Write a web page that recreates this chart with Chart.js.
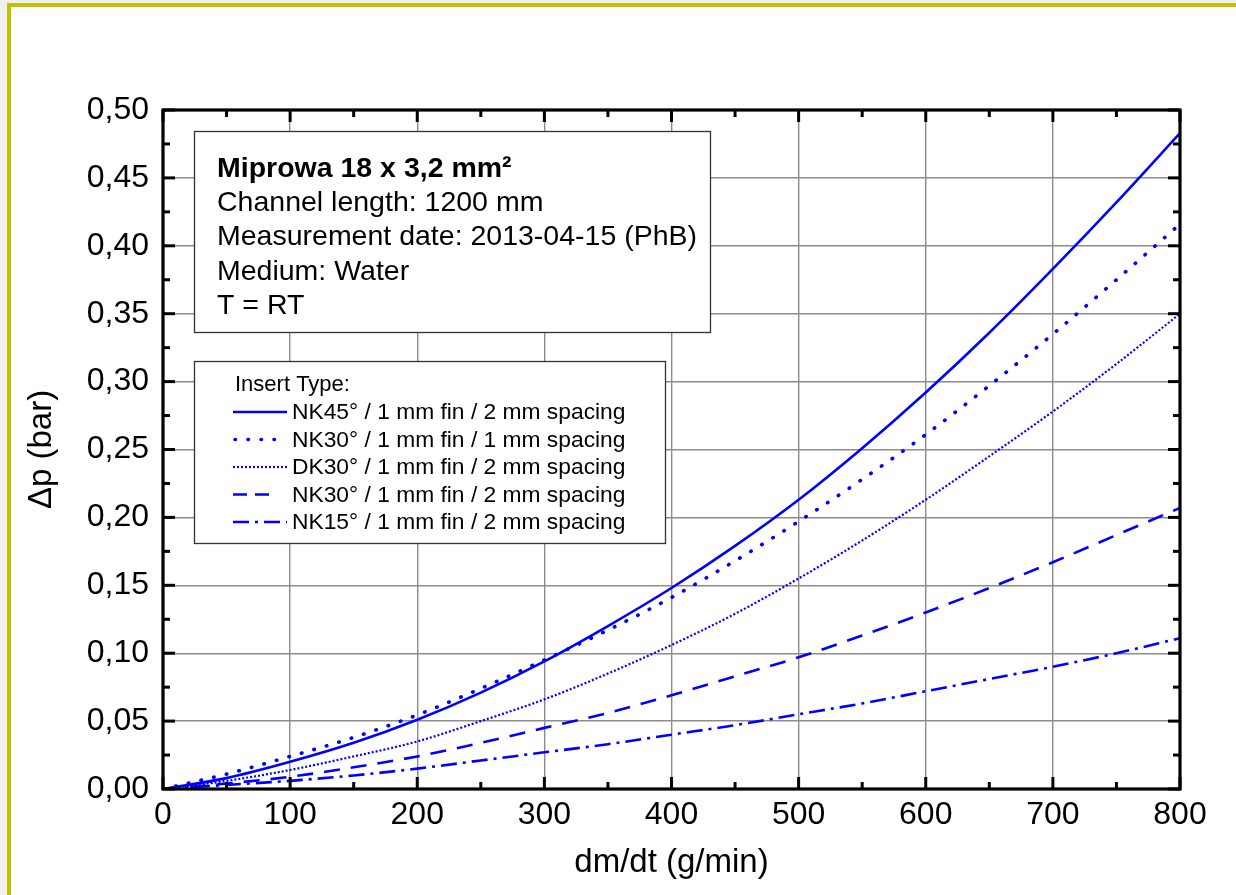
<!DOCTYPE html>
<html>
<head>
<meta charset="utf-8">
<script src="https://cdn.jsdelivr.net/npm/chart.js@4.4.1/dist/chart.umd.min.js"></script>
<style>
html,body{margin:0;padding:0;background:#f0f0f0;}
#wrap{position:absolute;left:0;top:0;width:1236px;height:895px;}
</style>
</head>
<body>
<div id="wrap"><canvas id="c" width="1236" height="895"></canvas></div>
<script>
// ---- data ----
const flow = [0,50,100,150,200,250,300,350,400,450,500,550,600,650,700,750,800];
const nk45_2mm = [0,0.008,0.020,0.034,0.051,0.071,0.094,0.120,0.148,0.179,0.213,0.251,0.292,0.336,0.383,0.432,0.483];
const nk30_1mm = [0,0.011,0.024,0.038,0.0545,0.074,0.095,0.117,0.141,0.168,0.197,0.228,0.261,0.297,0.335,0.375,0.416];
const dk30_2mm = [0,0.006,0.014,0.024,0.035,0.050,0.066,0.085,0.106,0.129,0.155,0.183,0.213,0.245,0.278,0.313,0.350];
const nk30_2mm = [0,0.004,0.009,0.016,0.024,0.034,0.045,0.056,0.069,0.083,0.097,0.113,0.130,0.148,0.167,0.187,0.207];
const nk15_2mm = [0,0.003,0.006,0.010,0.015,0.021,0.027,0.033,0.040,0.047,0.055,0.063,0.072,0.081,0.090,0.100,0.111];
const seriesLabels = [
  "NK45° / 1 mm fin / 2 mm spacing",
  "NK30° / 1 mm fin / 1 mm spacing",
  "DK30° / 1 mm fin / 2 mm spacing",
  "NK30° / 1 mm fin / 2 mm spacing",
  "NK15° / 1 mm fin / 2 mm spacing"
];
const xTicks = [0,100,200,300,400,500,600,700,800];
const yTicks = [0,0.05,0.10,0.15,0.20,0.25,0.30,0.35,0.40,0.45,0.50];
const infoLines = ["Miprowa 18 x 3,2 mm²","Channel length: 1200 mm","Measurement date: 2013-04-15 (PhB)","Medium: Water","T = RT"];
const legendTitle = "Insert Type:";

const BLUE = "#0000ff";
const FONT = "'Liberation Sans', Arial, sans-serif";
const styles = [
  {dash:[], width:2.6, cap:'butt'},
  {dash:[0.5,12.5], width:3.6, cap:'round'},
  {dash:[2,2], width:2.2, cap:'butt'},
  {dash:[16,11], width:2.6, cap:'butt'},
  {dash:[16,6,3,6], width:2.6, cap:'butt'}
];
const allSeries = [nk45_2mm, nk30_1mm, dk30_2mm, nk30_2mm, nk15_2mm];

const datasets = allSeries.map((arr,i)=>({
  label: seriesLabels[i],
  data: flow.map((x,j)=>({x:x,y:arr[j]})),
  borderColor: BLUE,
  borderWidth: styles[i].width,
  borderDash: styles[i].dash,
  borderCapStyle: styles[i].cap,
  pointRadius: 0,
  cubicInterpolationMode: 'monotone',
  fill:false
}));

function fmt(v){ return v.toFixed(2).replace('.', ','); }

const framePlugin = {
  id:'frame',
  beforeDraw(chart){
    const ctx = chart.ctx;
    ctx.save();
    ctx.fillStyle = '#f0f0f0';
    ctx.fillRect(0,0,chart.width,chart.height);
    ctx.fillStyle = '#bfc300';
    ctx.fillRect(7,3,chart.width-7,chart.height-3);
    ctx.fillStyle = '#ffffff';
    ctx.fillRect(11,7,chart.width-11,chart.height-7);
    ctx.restore();
  },
  afterDraw(chart){
    const ctx = chart.ctx;
    const a = chart.chartArea;
    const xs = chart.scales.x, ys = chart.scales.y;
    ctx.save();
    ctx.strokeStyle = '#000';
    // ticks inward
    ctx.lineWidth = 3;
    for(let v=0; v<=800; v+=50){
      const px = xs.getPixelForValue(v);
      const len = (v%100===0)?12:7;
      ctx.beginPath(); ctx.moveTo(px,a.bottom); ctx.lineTo(px,a.bottom-len); ctx.stroke();
      ctx.beginPath(); ctx.moveTo(px,a.top); ctx.lineTo(px,a.top+len); ctx.stroke();
    }
    for(let k=0; k<=20; k++){
      const v = k*0.025;
      const py = ys.getPixelForValue(v);
      const len = (k%2===0)?12:7;
      ctx.beginPath(); ctx.moveTo(a.left,py); ctx.lineTo(a.left+len,py); ctx.stroke();
      ctx.beginPath(); ctx.moveTo(a.right,py); ctx.lineTo(a.right-len,py); ctx.stroke();
    }
    // frame
    ctx.lineWidth = 3.2;
    ctx.strokeRect(a.left, a.top, a.right-a.left, a.bottom-a.top);

    // info box
    const bx=194, by=131, bw=516, bh=201;
    ctx.fillStyle='#fff';
    ctx.fillRect(bx,by,bw,bh);
    ctx.lineWidth=1.3; ctx.strokeStyle='#333';
    ctx.strokeRect(bx+0.5,by+0.5,bw,bh);
    ctx.fillStyle='#000';
    ctx.textBaseline='alphabetic'; ctx.textAlign='left';
    for(let i=0;i<infoLines.length;i++){
      ctx.font = (i===0? 'bold ':'') + '28.5px ' + FONT;
      ctx.fillText(infoLines[i], 217, 177 + i*34.2);
    }

    // legend box
    const lx=194, ly=361, lw=471, lh=182;
    ctx.fillStyle='#fff';
    ctx.fillRect(lx,ly,lw,lh);
    ctx.strokeStyle='#333'; ctx.lineWidth=1.3;
    ctx.strokeRect(lx+0.5,ly+0.5,lw,lh);
    ctx.fillStyle='#000';
    ctx.font = '22px ' + FONT;
    ctx.fillText(legendTitle, 235, 391);
    for(let i=0;i<seriesLabels.length;i++){
      const yy = 412 + i*27.5;
      ctx.save();
      ctx.strokeStyle = BLUE;
      ctx.lineWidth = styles[i].width;
      ctx.setLineDash(i===3?[14,8]:styles[i].dash);
      ctx.lineCap = styles[i].cap;
      ctx.beginPath();
      ctx.moveTo(i===1?235:233, yy); ctx.lineTo(i===3?270:287, yy);
      ctx.stroke();
      ctx.restore();
      ctx.fillStyle='#000';
      ctx.font = '22.8px ' + FONT;
      ctx.fillText(seriesLabels[i], 292, yy+7);
    }
    ctx.restore();
  }
};

new Chart(document.getElementById('c'), {
  type:'line',
  data:{datasets:datasets},
  plugins:[framePlugin],
  options:{
    responsive:false,
    animation:false,
    devicePixelRatio:1,
    layout:{padding:{left:0,right:56,top:110,bottom:0}},
    plugins:{legend:{display:false}, tooltip:{enabled:false}},
    scales:{
      x:{
        type:'linear', min:0, max:800,
        afterBuildTicks(s){ s.ticks = xTicks.map(v=>({value:v})); },
        afterFit(s){ s.height = 106; },
        grid:{color:'#8c8c8c', lineWidth:1.4, drawTicks:false},
        border:{display:false},
        ticks:{color:'#000', font:{family:FONT, size:32}, padding:7, maxRotation:0,
               callback:(v)=>String(v)},
        title:{display:true, text:'dm/dt (g/min)', color:'#000', font:{family:FONT,size:33}, padding:{top:0,bottom:12}}
      },
      y:{
        type:'linear', min:0, max:0.5,
        afterBuildTicks(s){ s.ticks = yTicks.map(v=>({value:v})); },
        afterFit(s){ s.width = 163; },
        grid:{color:'#8c8c8c', lineWidth:1.4, drawTicks:false},
        border:{display:false},
        ticks:{color:'#000', font:{family:FONT, size:32}, padding:14,
               callback:(v)=>fmt(v)},
        title:{display:true, text:'Δp (bar)', color:'#000', font:{family:FONT,size:33}, padding:{top:22,bottom:0}}
      }
    }
  }
});
</script>
</body>
</html>
